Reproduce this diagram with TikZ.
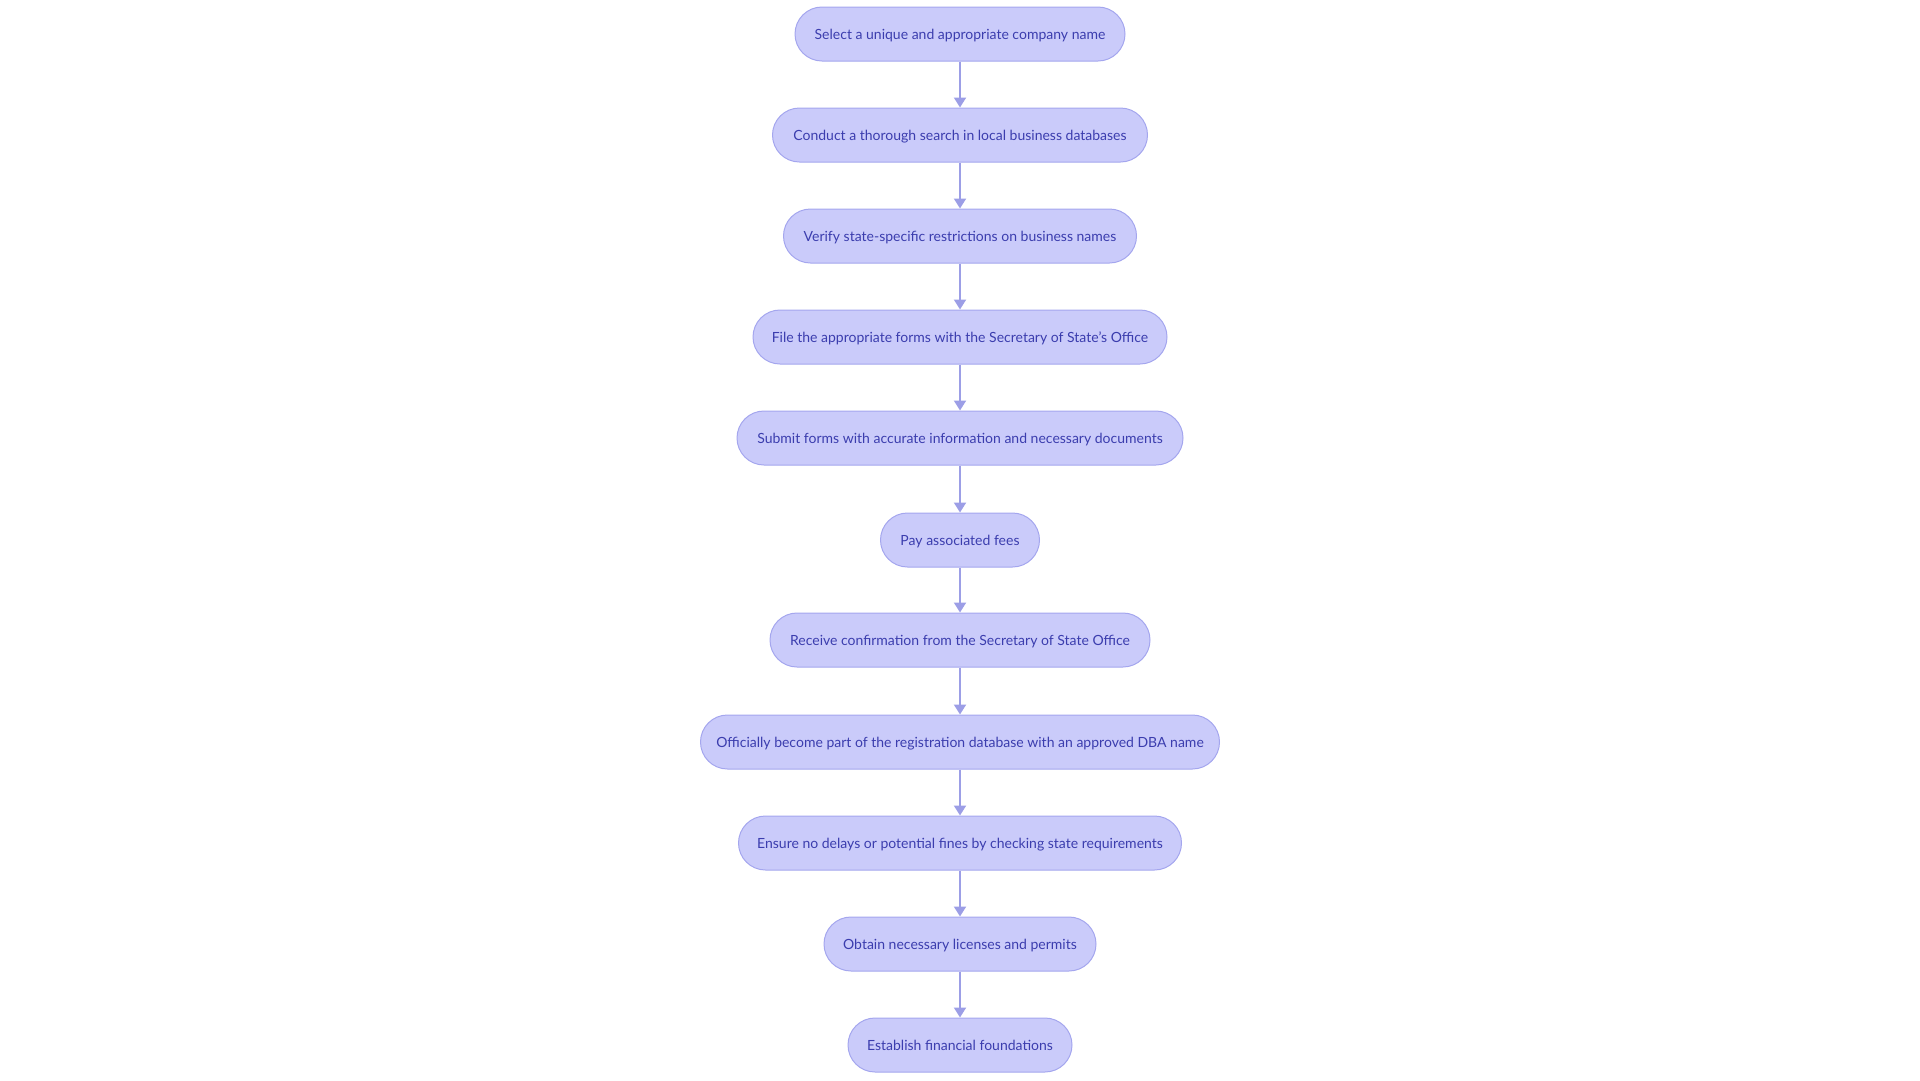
\documentclass[tikz,border=0pt]{standalone}
\usepackage{fontspec}
\setmainfont{Lato}
\usetikzlibrary{arrows.meta}
\definecolor{boxfill}{HTML}{CACBFA}
\definecolor{boxline}{HTML}{A4A6EE}
\definecolor{boxtext}{HTML}{3B3DAE}
\definecolor{linkcol}{HTML}{9C9EE6}
\tikzset{
  stepbox/.style={draw=boxline, fill=boxfill, line width=1pt, rounded corners=27pt,
    minimum height=54pt, inner sep=0pt, text=boxtext, text height=10pt, text depth=0pt,
    font=\fontsize{14}{16}\selectfont},
  link/.style={draw=linkcol, line width=2pt, -{Triangle[width=12pt,length=10pt]}}
}
\begin{document}
\begin{tikzpicture}[x=1pt,y=-1pt]
\useasboundingbox (0,0) rectangle (1920,1080);
\node[stepbox, minimum width=330pt] (n1) at (960,34) {Select a unique and appropriate company name};
\node[stepbox, minimum width=375pt] (n2) at (960,135) {Conduct a thorough search in local business databases};
\node[stepbox, minimum width=353pt] (n3) at (960,236) {Verify state-specific restrictions on business names};
\node[stepbox, minimum width=414pt] (n4) at (960,337) {File the appropriate forms with the Secretary of State's Office};
\node[stepbox, minimum width=446pt] (n5) at (960,438) {Submit forms with accurate information and necessary documents};
\node[stepbox, minimum width=159pt] (n6) at (960,540) {Pay associated fees};
\node[stepbox, minimum width=380pt] (n7) at (960,640) {Receive confirmation from the Secretary of State Office};
\node[stepbox, minimum width=519pt] (n8) at (960,742) {Officially become part of the registration database with an approved DBA name};
\node[stepbox, minimum width=443pt] (n9) at (960,843) {Ensure no delays or potential fines by checking state requirements};
\node[stepbox, minimum width=272pt] (n10) at (960,944) {Obtain necessary licenses and permits};
\node[stepbox, minimum width=224pt] (n11) at (960,1045) {Establish financial foundations};
\foreach \a/\b in {n1/n2,n2/n3,n3/n4,n4/n5,n5/n6,n6/n7,n7/n8,n8/n9,n9/n10,n10/n11}
  \draw[link] (\a.south) -- (\b.north);
\end{tikzpicture}
\end{document}
